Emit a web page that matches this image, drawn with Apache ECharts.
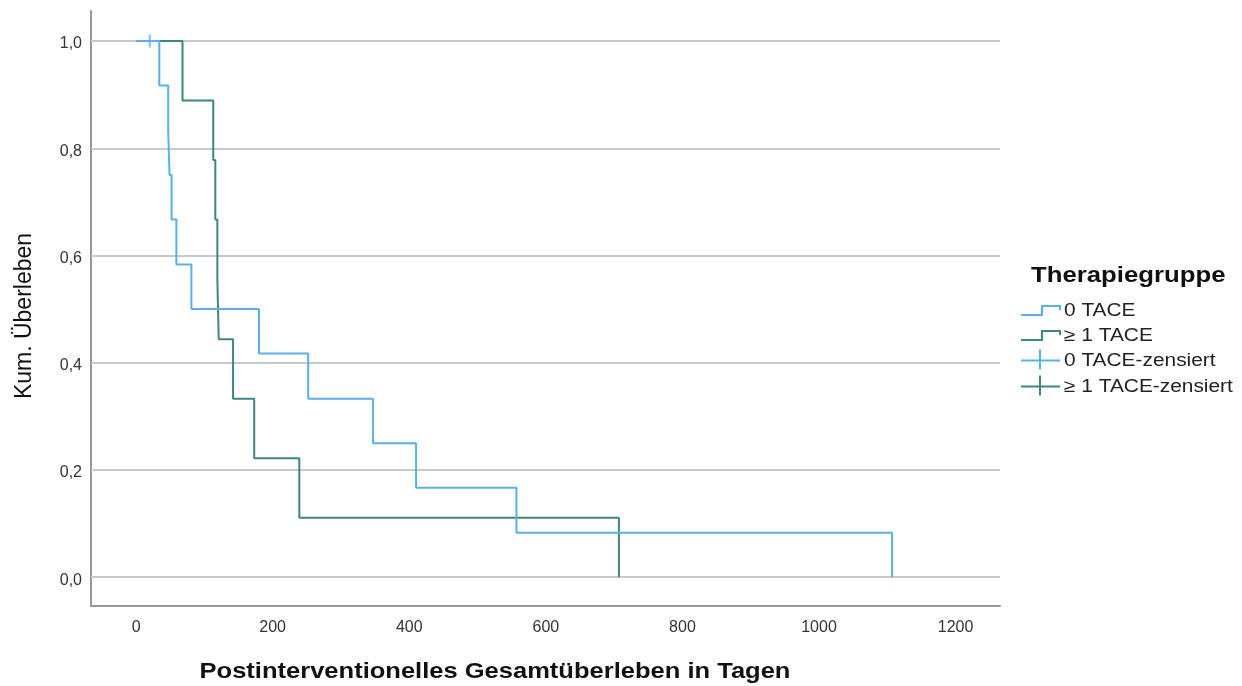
<!DOCTYPE html>
<html>
<head>
<meta charset="utf-8">
<script src="https://cdn.jsdelivr.net/npm/echarts@6/dist/echarts.min.js"></script>
<style>
  html, body { margin: 0; padding: 0; background: #ffffff; }
  #chart { width: 1242px; height: 686px; }
</style>
</head>
<body>
<div id="chart"></div>
<script>
// Kaplan-Meier survival per therapy group (days, cumulative survival)
const daysNoTace      = [0, 34, 47, 49, 52, 59, 81, 180, 252, 347, 410, 557, 1107];
const survNoTace      = [1.0, 0.917, 0.833, 0.75, 0.667, 0.583, 0.5, 0.417, 0.333, 0.25, 0.167, 0.083, 0.0];
const daysTace        = [0, 68, 113, 116, 119, 121, 142, 173, 239, 707];
const survTace        = [1.0, 0.889, 0.778, 0.667, 0.556, 0.444, 0.333, 0.222, 0.111, 0.0];
// censored observations
const censNoTaceDays  = [20];
const censNoTaceSurv  = [1.0];
const censTaceDays    = [];
const censTaceSurv    = [];

const xTicks = [0, 200, 400, 600, 800, 1000, 1200];
const yTicks = [0.0, 0.2, 0.4, 0.6, 0.8, 1.0];

const groupNames = ['0 TACE', '\u2265 1 TACE', '0 TACE-zensiert', '\u2265 1 TACE-zensiert'];
const legendTitle = 'Therapiegruppe';
const xTitle = 'Postinterventionelles Gesamt\u00fcberleben in Tagen';
const yTitle = 'Kum. \u00dcberleben';

const BLUE = '#55b1f1';
const GREEN = '#3d8782';
const FONT = '"Liberation Sans", Arial, sans-serif';

const pairs = (xs, ys) => xs.map((x, i) => [x, ys[i]]);
const plus = 'path://M0,6H12M6,0V12';

const chart = echarts.init(document.getElementById('chart'), null, { renderer: 'canvas' });

// legend drawn as graphic: step icon / censor cross + label
const lx0 = 1021, lx1 = 1060;
const legendRows = [311, 336, 361, 387];
const legendGraphics = [];
legendGraphics.push({
  type: 'text', x: 1031, y: 276, scaleX: 1.17,
  style: { text: legendTitle, font: 'bold 22px ' + FONT, fill: '#111', align: 'left', verticalAlign: 'middle' }
});
[BLUE, GREEN].forEach((c, i) => {
  const y = legendRows[i] + 4;
  legendGraphics.push({
    type: 'polyline',
    shape: { points: [[lx0, y], [1042, y], [1042, y - 9], [lx1, y - 9], [lx1, y - 5]] },
    style: { stroke: c, lineWidth: 2, fill: null }
  });
});
[BLUE, GREEN].forEach((c, i) => {
  const y = legendRows[i + 2] - 0.5;
  legendGraphics.push({
    type: 'polyline', shape: { points: [[lx0, y], [lx1, y]] },
    style: { stroke: c, lineWidth: 2, fill: null }
  });
  legendGraphics.push({
    type: 'polyline', shape: { points: [[1040, y - 11], [1040, y + 9]] },
    style: { stroke: c, lineWidth: 2, fill: null }
  });
});
groupNames.forEach((n, i) => {
  legendGraphics.push({
    type: 'text', x: 1064, y: legendRows[i], scaleX: 1.16,
    style: { text: n, font: '18px ' + FONT, fill: '#222', align: 'left', verticalAlign: 'middle' }
  });
});

chart.setOption({
  animation: false,
  backgroundColor: '#ffffff',
  grid: { left: 91, top: 11, right: 242, bottom: 80, containLabel: false },
  xAxis: {
    type: 'value', min: -66, max: 1265,
    axisLine: { show: true, onZero: false, lineStyle: { color: '#969696', width: 2 } },
    axisTick: { show: false },
    splitLine: { show: false },
    axisLabel: {
      customValues: xTicks, margin: 14,
      fontFamily: FONT, fontSize: 16, color: '#333',
      formatter: v => String(v)
    }
  },
  yAxis: {
    type: 'value', min: -0.0537, max: 1.056,
    axisLine: { show: true, onZero: false, lineStyle: { color: '#969696', width: 2 } },
    axisTick: { show: false },
    splitLine: { show: false },
    axisLabel: {
      customValues: yTicks, margin: 9,
      fontFamily: FONT, fontSize: 16, color: '#333',
      formatter: v => '{t|' + v.toFixed(1).replace('.', ',') + '}',
      rich: { t: { fontFamily: FONT, fontSize: 16, color: '#333', padding: [6, 0, 0, 0] } }
    }
  },
  graphic: [
    {
      type: 'text', x: 495, y: 672, scaleX: 1.16,
      style: { text: xTitle, font: 'bold 22px ' + FONT, fill: '#111', align: 'center', verticalAlign: 'middle' }
    },
    {
      type: 'text', x: 25, y: 316, rotation: Math.PI / 2,
      style: { text: yTitle, font: '23px ' + FONT, fill: '#111', align: 'center', verticalAlign: 'middle' }
    }
  ].concat(legendGraphics),
  series: [
    {
      name: 'grid', type: 'line', data: [], z: 1, silent: true,
      markLine: {
        z: 1, silent: true, symbol: ['none', 'none'], label: { show: false },
        lineStyle: { color: '#c9c9c9', width: 2, type: 'solid' },
        data: yTicks.map(v => ({ yAxis: v }))
      }
    },
    {
      name: groupNames[1], type: 'line', step: 'end', z: 3,
      data: pairs(daysTace, survTace), showSymbol: false,
      lineStyle: { color: GREEN, width: 2 }, itemStyle: { color: GREEN }
    },
    {
      name: groupNames[0], type: 'line', step: 'end', z: 4,
      data: pairs(daysNoTace, survNoTace), showSymbol: false,
      lineStyle: { color: BLUE, width: 2 }, itemStyle: { color: BLUE }
    },
    {
      name: groupNames[2], type: 'scatter', z: 5, symbol: plus, symbolSize: 13,
      data: pairs(censNoTaceDays, censNoTaceSurv),
      itemStyle: { color: 'none', borderColor: BLUE, borderWidth: 2 }
    },
    {
      name: groupNames[3], type: 'scatter', z: 5, symbol: plus, symbolSize: 13,
      data: pairs(censTaceDays, censTaceSurv),
      itemStyle: { color: 'none', borderColor: GREEN, borderWidth: 2 }
    }
  ]
});
</script>
</body>
</html>
